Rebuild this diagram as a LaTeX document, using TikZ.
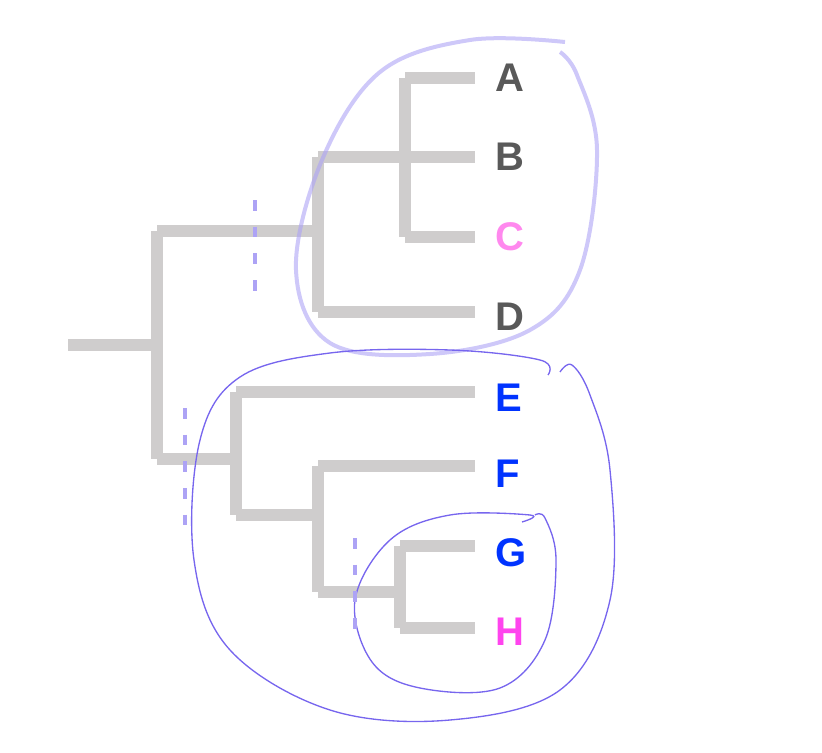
\documentclass[tikz,border=0pt]{standalone}
\usepackage{fontspec}
\setmainfont{Liberation Sans}
\usepackage{tikz}
\usetikzlibrary{positioning}
\definecolor{branchgray}{HTML}{CFCDCD}
\definecolor{leafgray}{HTML}{595959}
\definecolor{leafpink}{HTML}{FF88EE}
\definecolor{leafblue}{HTML}{0033FF}
\definecolor{leafmag}{HTML}{FF44EE}
\definecolor{pen}{HTML}{7766EE}
\tikzset{
  branch/.style={draw=branchgray, line width=9pt, line cap=butt},
  leaf/.style={font=\bfseries\fontsize{30}{30}\selectfont, anchor=west, inner sep=0pt},
  penline/.style={draw=pen, line width=1pt},
  scribble/.style={draw=pen!60, line width=3pt, opacity=0.6},
  tick/.style={draw=pen!60, line width=2.5pt, dash pattern=on 8pt off 12pt}
}
\begin{document}
\begin{tikzpicture}[x=0.75pt,y=-0.75pt]
    \useasboundingbox (0,0) rectangle (822,753);
    % leaves
    \coordinate (a) at (475,78);
    \coordinate (b) at (475,157);
    \coordinate (c) at (475,237);
    \coordinate (d) at (475,312);
    \coordinate (e) at (475,392);
    \coordinate (f) at (475,466);
    \coordinate (g) at (475,546);
    \coordinate (h) at (475,628);
    \node[leaf, text=leafgray] (la) at (495,78) {A};
    \node[leaf, text=leafgray] (lb) at (495,157) {B};
    \node[leaf, text=leafpink] (lc) at (495,237) {C};
    \node[leaf, text=leafgray] (ld) at (495,317) {D};
    \node[leaf, text=leafblue] (le) at (495,398) {E};
    \node[leaf, text=leafblue] (lf) at (495,474) {F};
    \node[leaf, text=leafblue] (lg) at (495,553) {G};
    \node[leaf, text=leafmag] (lh) at (495,632) {H};
    % inner nodes
    \coordinate (root) at (68,345);
    \coordinate (n0) at (157,345);
    \coordinate (nabcd) at (318,231);
    \coordinate (nabc) at (405,152);
    \coordinate (nefgh) at (236,459);
    \coordinate (nfgh) at (318,515);
    \coordinate (ngh) at (400,592);
    % branches
    \draw[branch] (root) -- (n0);
    \draw[branch] (n0 |- nabcd) -- (n0 |- nefgh);
    \draw[branch] (n0 |- nabcd) -- (nabcd);
    \draw[branch] (n0 |- nefgh) -- (nefgh);
    \draw[branch] (nabcd |- b) -- (nabcd |- d);
    \draw[branch] (nabcd |- d) -- (d);
    \draw[branch] (nabcd |- b) -- (b);
    \draw[branch] (nabc |- a) -- (nabc |- c);
    \draw[branch] (nabc |- a) -- (a);
    \draw[branch] (nabc |- c) -- (c);
    \draw[branch] (nefgh |- e) -- (nefgh |- nfgh);
    \draw[branch] (nefgh |- e) -- (e);
    \draw[branch] (nefgh |- nfgh) -- (nfgh);
    \draw[branch] (nfgh |- f) -- (nfgh |- ngh);
    \draw[branch] (nfgh |- f) -- (f);
    \draw[branch] (nfgh |- ngh) -- (ngh);
    \draw[branch] (ngh |- g) -- (ngh |- h);
    \draw[branch] (ngh |- g) -- (g);
    \draw[branch] (ngh |- h) -- (h);
    % pen marks
    \draw[scribble] plot[smooth, tension=0.6] coordinates {(565,42) (470,40) (380,72) (322,160) (296,270) (330,343) (430,354) (530,330) (580,270) (597,150) (577,75) (560,52)};
    \draw[penline] plot[smooth, tension=0.6] coordinates {(548,375) (540,360) (450,350) (330,353) (240,377) (200,440) (194,560) (230,650) (330,710) (450,720) (560,690) (610,600) (610,470) (590,395) (572,365) (560,372)};
    \draw[penline] plot[smooth, tension=0.6] coordinates {(522,522) (530,515) (450,515) (390,540) (355,600) (372,662) (420,688) (500,688) (545,640) (556,560) (545,518) (535,515)};
    \draw[tick] (255,200) -- (255,302);
    \draw[tick] (185,408) -- (185,528);
    \draw[tick] (355,538) -- (355,642);
\end{tikzpicture}
\end{document}
